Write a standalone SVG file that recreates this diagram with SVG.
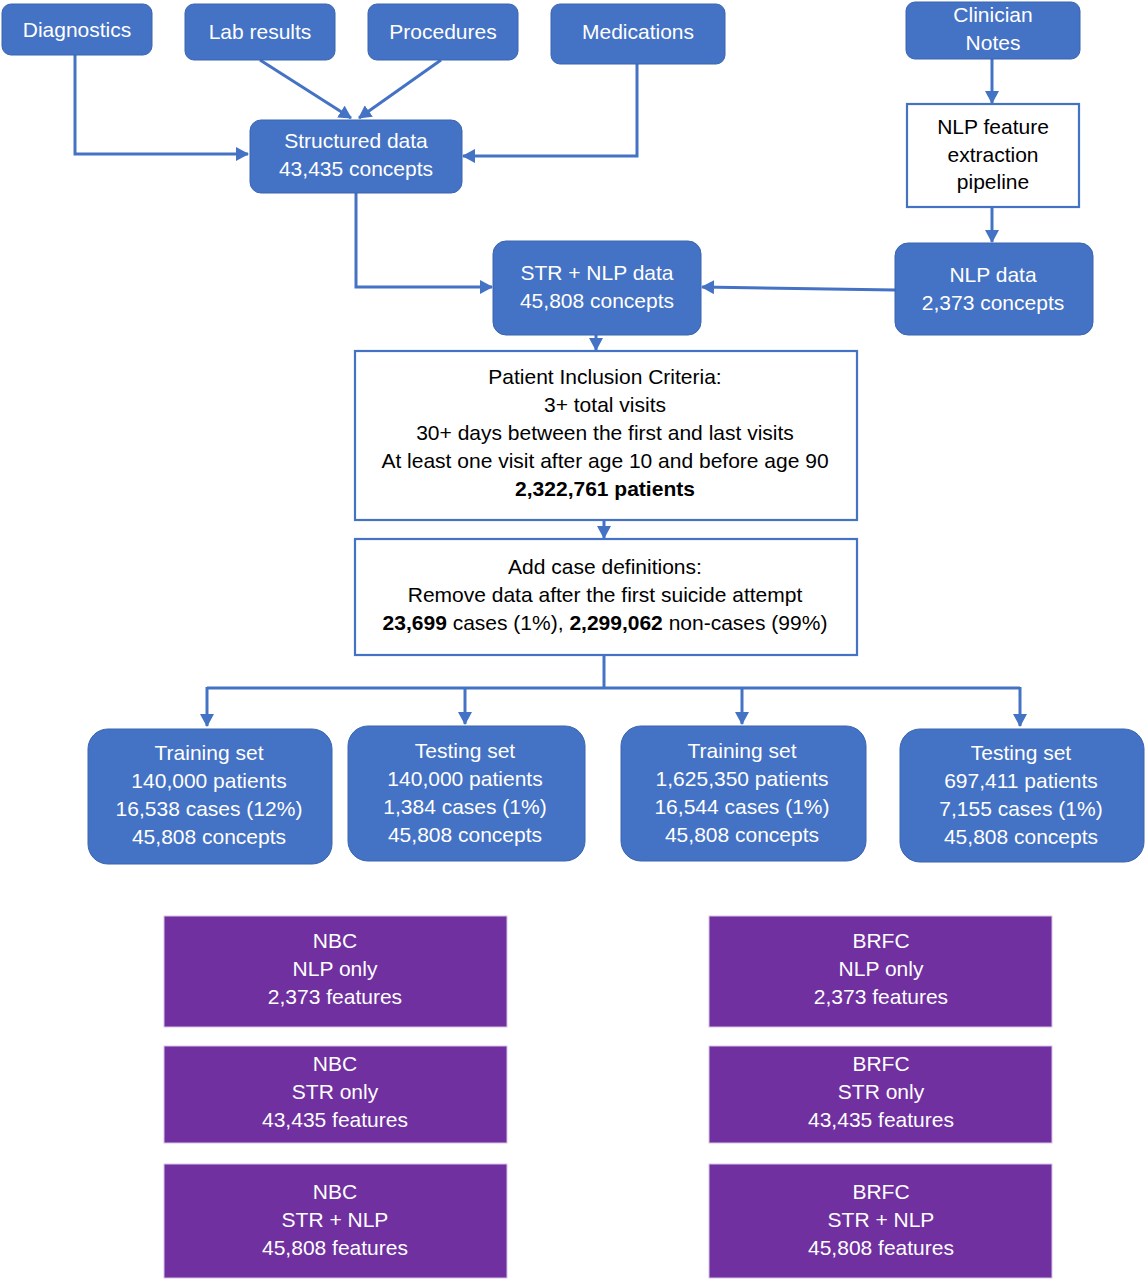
<svg xmlns="http://www.w3.org/2000/svg" width="1147" height="1280" viewBox="0 0 1147 1280">
<defs>
<marker id="ah" markerWidth="14" markerHeight="14" refX="12" refY="7" orient="auto" markerUnits="userSpaceOnUse">
<path d="M0,0 L13,7 L0,14 Z" fill="#4472C4"/>
</marker>
<style>
.blue{fill:#4472C4;stroke:#3A65B0;stroke-width:1}
.white{fill:#FFFFFF;stroke:#4472C4;stroke-width:2.2}
.purple{fill:#7030A0;stroke:#D9C3E8;stroke-width:1}
text{font-family:"Liberation Sans",Arial,sans-serif;font-size:21px;text-anchor:middle}
.wt{fill:#FFFFFF}
.bt{fill:#000000}
.b{font-weight:bold}
.conn{fill:none;stroke:#4472C4;stroke-width:3;marker-end:url(#ah)}
.line{fill:none;stroke:#4472C4;stroke-width:3}
</style>
</defs>
<rect width="1147" height="1280" fill="#FFFFFF"/>

<g id="connectors">
<polyline class="conn" points="75,55 75,154 248,154"/>
<line class="conn" x1="260" y1="60" x2="351" y2="118"/>
<line class="conn" x1="441" y1="60" x2="359" y2="118"/>
<polyline class="conn" points="637,64 637,156 463,156"/>
<polyline class="conn" points="356,193 356,287 492,287"/>
<line class="conn" x1="992" y1="59" x2="992" y2="103"/>
<line class="conn" x1="992" y1="207" x2="992" y2="242"/>
<line class="conn" x1="895" y1="290" x2="702" y2="287"/>
<line class="conn" x1="596" y1="335" x2="596" y2="350"/>
<line class="conn" x1="604" y1="520" x2="604" y2="538"/>
<polyline class="line" points="604,655 604,688"/>
<polyline class="line" points="207,688 1020,688"/>
<line class="conn" x1="207" y1="687" x2="207" y2="726"/>
<line class="conn" x1="465" y1="687" x2="465" y2="724"/>
<line class="conn" x1="742" y1="687" x2="742" y2="724"/>
<line class="conn" x1="1020" y1="687" x2="1020" y2="726"/>
</g>

<g id="diagnostics">
<rect class="blue" x="2" y="4" width="150" height="51" rx="9"/>
<text class="wt" x="77" y="37">Diagnostics</text>
</g>
<g id="lab-results">
<rect class="blue" x="185" y="4" width="150" height="56" rx="9"/>
<text class="wt" x="260" y="39">Lab results</text>
</g>
<g id="procedures">
<rect class="blue" x="368" y="4" width="150" height="56" rx="9"/>
<text class="wt" x="443" y="39">Procedures</text>
</g>
<g id="medications">
<rect class="blue" x="551" y="4" width="174" height="60" rx="9"/>
<text class="wt" x="638" y="39">Medications</text>
</g>
<g id="clinician-notes">
<rect class="blue" x="906" y="2" width="174" height="57" rx="9"/>
<text class="wt" x="993" y="22">Clinician</text>
<text class="wt" x="993" y="50">Notes</text>
</g>
<g id="nlp-pipeline">
<rect class="white" x="907" y="104" width="172" height="103"/>
<text class="bt" x="993" y="134">NLP feature</text>
<text class="bt" x="993" y="162">extraction</text>
<text class="bt" x="993" y="189">pipeline</text>
</g>
<g id="structured-data">
<rect class="blue" x="250" y="120" width="212" height="73" rx="11"/>
<text class="wt" x="356" y="148">Structured data</text>
<text class="wt" x="356" y="176">43,435 concepts</text>
</g>
<g id="str-nlp-data">
<rect class="blue" x="493" y="241" width="208" height="94" rx="13"/>
<text class="wt" x="597" y="280">STR + NLP data</text>
<text class="wt" x="597" y="308">45,808 concepts</text>
</g>
<g id="nlp-data">
<rect class="blue" x="895" y="243" width="198" height="92" rx="13"/>
<text class="wt" x="993" y="282">NLP data</text>
<text class="wt" x="993" y="310">2,373 concepts</text>
</g>
<g id="inclusion-criteria">
<rect class="white" x="355" y="351" width="502" height="169"/>
<text class="bt" x="605" y="384">Patient Inclusion Criteria:</text>
<text class="bt" x="605" y="412">3+ total visits</text>
<text class="bt" x="605" y="440">30+ days between the first and last visits</text>
<text class="bt" x="605" y="468">At least one visit after age 10 and before age 90</text>
<text class="bt b" x="605" y="496">2,322,761 patients</text>
</g>
<g id="case-definitions">
<rect class="white" x="355" y="539" width="502" height="116"/>
<text class="bt" x="605" y="574">Add case definitions:</text>
<text class="bt" x="605" y="602">Remove data after the first suicide attempt</text>
<text class="bt" x="605" y="630"><tspan class="b">23,699</tspan> cases (1%), <tspan class="b">2,299,062</tspan> non-cases (99%)</text>
</g>
<g id="training-set-1">
<rect class="blue" x="88" y="729" width="244" height="135" rx="20"/>
<text class="wt" x="209" y="760">Training set</text>
<text class="wt" x="209" y="788">140,000 patients</text>
<text class="wt" x="209" y="816">16,538 cases (12%)</text>
<text class="wt" x="209" y="844">45,808 concepts</text>
</g>
<g id="testing-set-1">
<rect class="blue" x="348" y="726" width="237" height="135" rx="20"/>
<text class="wt" x="465" y="758">Testing set</text>
<text class="wt" x="465" y="786">140,000 patients</text>
<text class="wt" x="465" y="814">1,384 cases (1%)</text>
<text class="wt" x="465" y="842">45,808 concepts</text>
</g>
<g id="training-set-2">
<rect class="blue" x="621" y="726" width="245" height="135" rx="20"/>
<text class="wt" x="742" y="758">Training set</text>
<text class="wt" x="742" y="786">1,625,350 patients</text>
<text class="wt" x="742" y="814">16,544 cases (1%)</text>
<text class="wt" x="742" y="842">45,808 concepts</text>
</g>
<g id="testing-set-2">
<rect class="blue" x="900" y="729" width="244" height="133" rx="20"/>
<text class="wt" x="1021" y="760">Testing set</text>
<text class="wt" x="1021" y="788">697,411 patients</text>
<text class="wt" x="1021" y="816">7,155 cases (1%)</text>
<text class="wt" x="1021" y="844">45,808 concepts</text>
</g>
<g id="nbc-nlp">
<rect class="purple" x="164" y="916" width="343" height="111"/>
<text class="wt" x="335" y="948">NBC</text>
<text class="wt" x="335" y="976">NLP only</text>
<text class="wt" x="335" y="1004">2,373 features</text>
</g>
<g id="nbc-str">
<rect class="purple" x="164" y="1046" width="343" height="97"/>
<text class="wt" x="335" y="1071">NBC</text>
<text class="wt" x="335" y="1099">STR only</text>
<text class="wt" x="335" y="1127">43,435 features</text>
</g>
<g id="nbc-str-nlp">
<rect class="purple" x="164" y="1164" width="343" height="114"/>
<text class="wt" x="335" y="1199">NBC</text>
<text class="wt" x="335" y="1227">STR + NLP</text>
<text class="wt" x="335" y="1255">45,808 features</text>
</g>
<g id="brfc-nlp">
<rect class="purple" x="709" y="916" width="343" height="111"/>
<text class="wt" x="881" y="948">BRFC</text>
<text class="wt" x="881" y="976">NLP only</text>
<text class="wt" x="881" y="1004">2,373 features</text>
</g>
<g id="brfc-str">
<rect class="purple" x="709" y="1046" width="343" height="97"/>
<text class="wt" x="881" y="1071">BRFC</text>
<text class="wt" x="881" y="1099">STR only</text>
<text class="wt" x="881" y="1127">43,435 features</text>
</g>
<g id="brfc-str-nlp">
<rect class="purple" x="709" y="1164" width="343" height="114"/>
<text class="wt" x="881" y="1199">BRFC</text>
<text class="wt" x="881" y="1227">STR + NLP</text>
<text class="wt" x="881" y="1255">45,808 features</text>
</g>
</svg>
